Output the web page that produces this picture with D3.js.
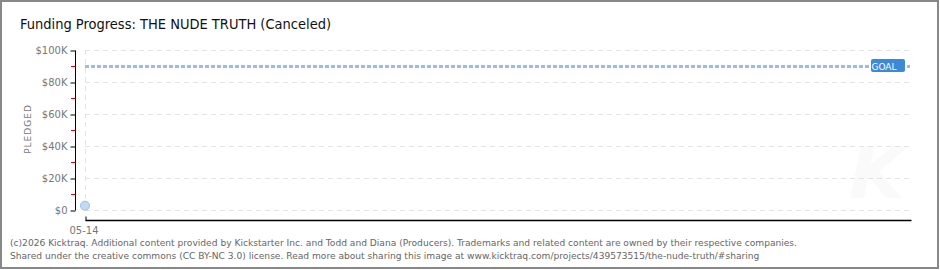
<!DOCTYPE html>
<html>
<head>
<meta charset="utf-8">
<script src="https://cdn.jsdelivr.net/npm/d3@7"></script>
<style>
  body { margin: 0; background: #fff; }
  svg { display: block; }
</style>
</head>
<body>
<div id="chart"></div>
<script>
// data
var dates = ["2026-05-14"]
var pledged = [2700]
var goal = 90000
var yTicks = [0, 20000, 40000, 60000, 80000, 100000]
var yMinor = [10000, 30000, 50000, 70000, 90000]
var title = "Funding Progress: THE NUDE TRUTH (Canceled)"
var footer1 = "(c)2026 Kicktraq. Additional content provided by Kickstarter Inc. and Todd and Diana (Producers). Trademarks and related content are owned by their respective companies."
var footer2 = "Shared under the creative commons (CC BY-NC 3.0) license. Read more about sharing this image at www.kicktraq.com/projects/439573515/the-nude-truth/#sharing"

const width = 940
const height = 270

const svg = d3.select('#chart').append('svg')
    .attr('width', width)
    .attr('height', height)

// frame
svg.append('rect')
    .attr('x', 1).attr('y', 1)
    .attr('width', width - 3).attr('height', height - 3)
    .attr('fill', '#fff')
    .attr('stroke', '#888')
    .attr('stroke-width', 2)

// faint watermark
svg.append('text')
    .attr('x', 877).attr('y', 198)
    .attr('text-anchor', 'middle')
    .style('font-family', 'DejaVu Sans')
    .style('font-style', 'italic')
    .style('font-weight', 'bold')
    .style('font-size', '72px')
    .attr('fill', '#fafafa')
    .text('K')

svg.append('text')
    .attr('x', 20).attr('y', 29)
    .style('font-family', 'DejaVu Sans Condensed, DejaVu Sans')
    .style('font-size', '14.5px')
    .attr('fill', '#111')
    .text(title)

var parse = d3.timeParse('%Y-%m-%d')
var start = parse(dates[0])
var end = d3.timeDay.offset(start, 30)

var x = d3.scaleTime()
    .domain([start, end])
    .range([85, 911])

var y = d3.scaleLinear()
    .domain([0, 100000])
    .range([210, 50])

// grid
svg.append('g')
    .selectAll('line')
    .data(yTicks)
    .enter()
    .append('line')
    .attr('x1', 85).attr('x2', 911)
    .attr('y1', function (d) { return y(d) + 0.5 })
    .attr('y2', function (d) { return y(d) + 0.5 })
    .attr('stroke', '#e4e4e4')
    .attr('stroke-dasharray', '5,4')

svg.append('line')
    .attr('x1', x(start) + 0.5).attr('x2', x(start) + 0.5)
    .attr('y1', 50).attr('y2', 210)
    .attr('stroke', '#e4e4e4')
    .attr('stroke-dasharray', '5,4')

// y axis
var yAxis = svg.append('g')
    .attr('transform', 'translate(75.5,0.5)')
    .call(d3.axisLeft(y).tickValues(yTicks).tickSize(5).tickPadding(3)
        .tickFormat(function (d) { return '$' + (d == 0 ? '0' : (d / 1000) + 'K') }))
yAxis.select('.domain').attr('stroke', '#000').attr('d', 'M0,' + y(100000) + 'V' + y(0))
yAxis.selectAll('.tick line').attr('stroke', '#000')
yAxis.selectAll('.tick text')
    .style('font-family', 'DejaVu Sans')
    .style('font-size', '10px')
    .attr('fill', '#777')

svg.append('g')
    .selectAll('line')
    .data(yMinor)
    .enter()
    .append('line')
    .attr('x1', 71).attr('x2', 75)
    .attr('y1', function (d) { return y(d) + 0.5 })
    .attr('y2', function (d) { return y(d) + 0.5 })
    .attr('stroke', '#e00000')

svg.append('text')
    .attr('transform', 'translate(31,129) rotate(-90)')
    .attr('text-anchor', 'middle')
    .style('font-family', 'DejaVu Sans')
    .style('font-size', '9px')
    .style('letter-spacing', '1px')
    .attr('fill', '#777')
    .text('PLEDGED')

// x axis
var xAxis = svg.append('g')
    .attr('transform', 'translate(0.5,220.5)')
    .call(d3.axisTop(x).tickValues([start]).tickSize(4).tickFormat(d3.timeFormat('%m-%d')))
xAxis.select('.domain').attr('stroke', '#000').attr('stroke-width', 1.5).attr('d', 'M' + x(start) + ',0H911')
xAxis.selectAll('.tick line').attr('stroke', '#000')
xAxis.selectAll('.tick text')
    .attr('y', 13)
    .attr('dy', 0)
    .attr('dx', -2)
    .style('font-family', 'DejaVu Sans')
    .style('font-size', '10px')
    .attr('fill', '#777')

// goal line
svg.append('line')
    .attr('x1', x(start)).attr('x2', 910)
    .attr('y1', y(goal) + 0.5).attr('y2', y(goal) + 0.5)
    .attr('stroke', '#9bbde4')
    .attr('stroke-width', 3)
    .attr('stroke-dasharray', '4,2')

svg.append('rect')
    .attr('x', 871).attr('y', y(goal) - 7)
    .attr('width', 34).attr('height', 13)
    .attr('rx', 2)
    .attr('fill', '#3c89d8')

svg.append('text')
    .attr('x', 884).attr('y', y(goal) + 3.5)
    .attr('text-anchor', 'middle')
    .style('font-family', 'DejaVu Sans')
    .style('font-size', '9px')
    .attr('fill', '#fff')
    .text('GOAL')

// pledged points
svg.append('g')
    .selectAll('circle')
    .data(d3.zip(dates, pledged))
    .enter()
    .append('circle')
    .attr('cx', function (d) { return x(parse(d[0])) })
    .attr('cy', function (d) { return y(d[1]) })
    .attr('r', 4.5)
    .attr('fill', '#c4daf4')
    .attr('stroke', '#9bbde4')

// footer
svg.append('text')
    .attr('x', 10).attr('y', 246)
    .style('font-family', 'DejaVu Sans')
    .style('font-size', '9.1px')
    .attr('fill', '#666')
    .text(footer1)

svg.append('text')
    .attr('x', 10).attr('y', 259)
    .style('font-family', 'DejaVu Sans')
    .style('font-size', '9.1px')
    .attr('fill', '#666')
    .text(footer2)
</script>
</body>
</html>
